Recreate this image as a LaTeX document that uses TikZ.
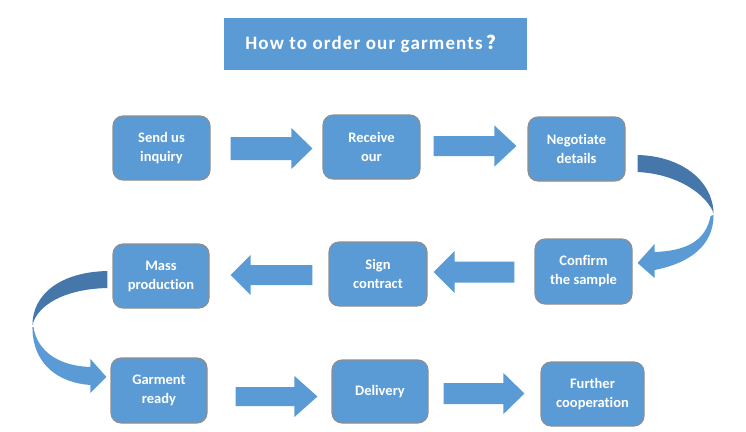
\documentclass[tikz,border=0pt]{standalone}
\usepackage{fontspec}
\setmainfont{Carlito}[Ligatures={NoCommon}]
\newfontfamily\cjkfont{Noto Sans CJK SC}
\newfontfamily\titlefont{Carlito}[Ligatures={NoCommon},LetterSpace=6]
\usetikzlibrary{calc}
\definecolor{boxblue}{HTML}{5B9BD5}
\definecolor{darkblue}{HTML}{4677AB}
\definecolor{boxline}{HTML}{8E8E8E}
\tikzset{
  stepbox/.style={draw=boxline, line width=1.1pt, fill=boxblue, rounded corners=10pt,
    text=white, font=\bfseries\fontsize{14.5}{19}\selectfont, align=center,
    inner sep=0pt},
  titlebox/.style={fill=boxblue, text=white, font=\titlefont\bfseries\fontsize{19}{22}\selectfont,
    inner sep=0pt},
  arrowfill/.style={fill=boxblue},
  twistfill/.style={fill=darkblue}
}
\newcommand\blockarrow[5]{%
  \fill[arrowfill] let \p1=#1, \p2=#2, \n2={ifthenelse(\x2>\x1,1,-1)*#5} in
    ({\x1},{\y1+#3}) -- ({\x2-(\n2)},{\y1+#3}) -- ({\x2-(\n2)},{\y1+#4}) -- ({\x2},{\y1})
    -- ({\x2-(\n2)},{\y1-#4}) -- ({\x2-(\n2)},{\y1-#3}) -- ({\x1},{\y1-#3}) -- cycle;}
\begin{document}
\begin{tikzpicture}[x=1pt,y=-1pt]
\useasboundingbox (0,0) rectangle (746,431);
% title
\node[titlebox, minimum width=303pt, minimum height=52pt] (T) at (375.5,44)
  {How to order our garments\kern4pt{\cjkfont ？}};
% boxes
\node[stepbox, minimum width=97pt, minimum height=64pt] (A) at (161.5,148) {Send us\\inquiry};
\node[stepbox, minimum width=97pt, minimum height=64pt] (B) at (371.5,147) {Receive\\our};
\node[stepbox, minimum width=97pt, minimum height=64pt] (C) at (576.5,149) {Negotiate\\details};
\node[stepbox, minimum width=97pt, minimum height=65pt] (D) at (583.5,271.5) {Confirm\\the sample};
\node[stepbox, minimum width=98pt, minimum height=64pt] (E) at (378,274) {Sign\\contract};
\node[stepbox, minimum width=96pt, minimum height=64pt] (F) at (161,276) {Mass\\production};
\node[stepbox, minimum width=96pt, minimum height=65pt] (G) at (159,390.5) {Garment\\ready};
\node[stepbox, minimum width=96pt, minimum height=63pt] (H) at (380,391.5) {Delivery};
\node[stepbox, minimum width=103pt, minimum height=64pt] (I) at (592.5,394) {Further\\cooperation};
% straight block arrows
\blockarrow{($(A.east)+(20,0.5)$)}{($(B.west)+(-10,0)$)}{11.5pt}{20.5pt}{21pt}
\blockarrow{($(B.east)+(13,-1)$)}{($(C.west)+(-11,0)$)}{10pt}{20.5pt}{22pt}
\blockarrow{($(D.west)+(-20,0.5)$)}{($(E.east)+(6,0)$)}{10.5pt}{21pt}{21pt}
\blockarrow{($(E.west)+(-16,1)$)}{($(F.east)+(21,0)$)}{10pt}{20pt}{20pt}
\blockarrow{($(G.east)+(28,6)$)}{($(H.west)+(-14,0)$)}{9.5pt}{20.5pt}{23pt}
\blockarrow{($(H.east)+(15,2)$)}{($(I.west)+(-16,0)$)}{10.5pt}{20.5pt}{21pt}
% curved arrow C -> D
\begin{scope}[shift={(C.east)}]
  \fill[twistfill] (12,6) .. controls (55,7) and (87,31) .. (88,64)
    .. controls (81,46) and (53,25) .. (12,23) -- cycle;
  \fill[arrowfill] (88,66) .. controls (88,96) and (65,114) .. (29,121)
    -- (29,129) -- (12,114) -- (29,95) -- (29,103)
    .. controls (59,102) and (80,93) .. (85,67) -- cycle;
\end{scope}
% curved arrow F -> G
\begin{scope}[shift={(F.west)}]
  \fill[twistfill] (-5,-5) .. controls (-53,-4) and (-80,19) .. (-80,49)
    .. controls (-75,29) and (-48,13) .. (-5,12) -- cycle;
  \fill[arrowfill] (-80,51) .. controls (-80,89) and (-53,107) .. (-22,109)
    -- (-22,117) -- (-6,101) -- (-22,83) -- (-22,91)
    .. controls (-53,90) and (-75,76) .. (-79,51) -- cycle;
\end{scope}
\end{tikzpicture}
\end{document}
